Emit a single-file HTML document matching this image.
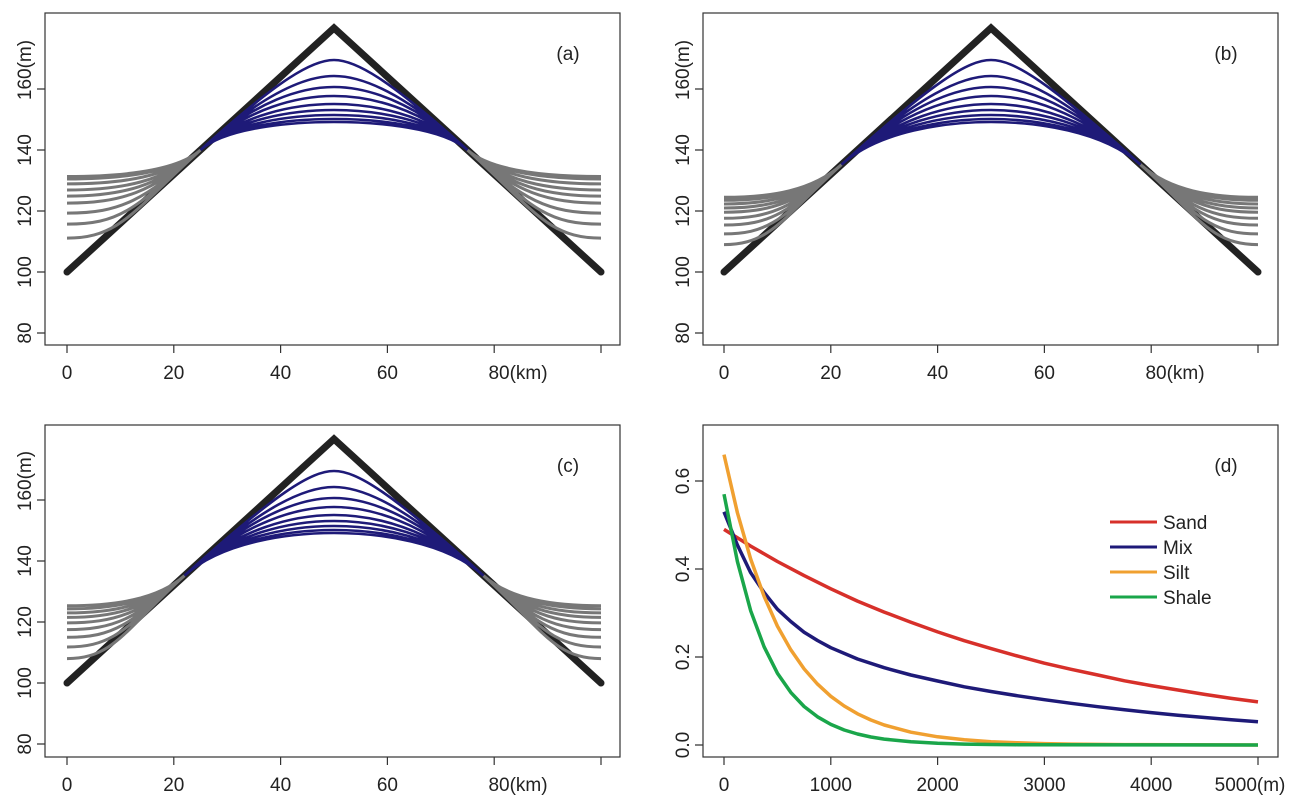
<!DOCTYPE html>
<html><head><meta charset="utf-8"><style>
body{margin:0;background:#fff}
svg text{font-family:"Liberation Sans",sans-serif;font-size:19px;fill:#222}
.g{fill:none;stroke:#777;stroke-width:3}
.b{fill:none;stroke:#1e1a78;stroke-width:2.6}
.k{fill:none;stroke:#222;stroke-width:7;stroke-linecap:round}
.f{fill:none;stroke:#333;stroke-width:1.2}
</style></head><body>
<svg width="1293" height="807" xmlns="http://www.w3.org/2000/svg">
<rect class="f" x="45" y="13" width="575" height="332"/>
<rect class="f" x="703" y="13" width="575" height="332"/>
<rect class="f" x="45" y="425" width="575" height="332"/>
<rect class="f" x="703" y="425" width="575" height="332"/>
<g stroke="#333" stroke-width="1.2">
<path d="M67,345v8M173.8,345v8M280.6,345v8M387.4,345v8M494.2,345v8M601,345v8"/>
<path d="M724,345v8M830.8,345v8M937.6,345v8M1044.4,345v8M1151.2,345v8M1258,345v8"/>
<path d="M67,757v8M173.8,757v8M280.6,757v8M387.4,757v8M494.2,757v8M601,757v8"/>
<path d="M724,757v8M830.8,757v8M937.6,757v8M1044.4,757v8M1151.2,757v8M1258,757v8"/>
<path d="M45,333h-8M45,272h-8M45,211h-8M45,150h-8M45,89h-8"/>
<path d="M703,333h-8M703,272h-8M703,211h-8M703,150h-8M703,89h-8"/>
<path d="M45,744h-8M45,683h-8M45,622h-8M45,561h-8M45,500h-8"/>
<path d="M703,745h-8M703,657h-8M703,569h-8M703,481h-8"/>
</g>
<g text-anchor="middle">
<text x="67" y="379">0</text><text x="173.8" y="379">20</text><text x="280.6" y="379">40</text><text x="387.4" y="379">60</text><text x="518" y="379">80(km)</text>
<text x="724" y="379">0</text><text x="830.8" y="379">20</text><text x="937.6" y="379">40</text><text x="1044.4" y="379">60</text><text x="1175" y="379">80(km)</text>
<text x="67" y="791">0</text><text x="173.8" y="791">20</text><text x="280.6" y="791">40</text><text x="387.4" y="791">60</text><text x="518" y="791">80(km)</text>
<text x="724" y="791">0</text><text x="830.8" y="791">1000</text><text x="937.6" y="791">2000</text><text x="1044.4" y="791">3000</text><text x="1151.2" y="791">4000</text><text x="1250" y="791">5000(m)</text>
<text transform="translate(31,333) rotate(-90)">80</text><text transform="translate(31,272) rotate(-90)">100</text><text transform="translate(31,211) rotate(-90)">120</text><text transform="translate(31,150) rotate(-90)">140</text><text transform="translate(31,70) rotate(-90)">160(m)</text>
<text transform="translate(689,333) rotate(-90)">80</text><text transform="translate(689,272) rotate(-90)">100</text><text transform="translate(689,211) rotate(-90)">120</text><text transform="translate(689,150) rotate(-90)">140</text><text transform="translate(689,70) rotate(-90)">160(m)</text>
<text transform="translate(31,744) rotate(-90)">80</text><text transform="translate(31,683) rotate(-90)">100</text><text transform="translate(31,622) rotate(-90)">120</text><text transform="translate(31,561) rotate(-90)">140</text><text transform="translate(31,481) rotate(-90)">160(m)</text>
<text transform="translate(689,745) rotate(-90)">0.0</text><text transform="translate(689,657) rotate(-90)">0.2</text><text transform="translate(689,569) rotate(-90)">0.4</text><text transform="translate(689,481) rotate(-90)">0.6</text>
<text x="568" y="60">(a)</text><text x="1226" y="60">(b)</text><text x="568" y="472">(c)</text><text x="1226" y="472">(d)</text>
</g>

<!-- panel a -->
<path class="k" d="M67,272L334,28L601,272"/>
<path class="g" d="M67,176.5C120.4,176.5 176.9,171.2 200.5,150M601,176.5C547.6,176.5 491.1,171.2 467.5,150
M67,179C120.4,179 174.7,173.2 200.5,150M601,179C547.6,179 493.3,173.2 467.5,150
M67,183.9C120.4,183.9 170.4,177.1 200.5,150M601,183.9C547.6,183.9 497.6,177.1 467.5,150
M67,190C120.4,190 164.9,182 200.5,150M601,190C547.6,190 503.1,182 467.5,150
M67,196.1C120.4,196.1 159.5,186.9 200.5,150M601,196.1C547.6,196.1 508.5,186.9 467.5,150
M67,203.1C120.4,203.1 153.3,192.5 200.5,150M601,203.1C547.6,203.1 514.7,192.5 467.5,150
M67,213.1C120.4,213.1 144.4,200.5 200.5,150M601,213.1C547.6,213.1 523.6,200.5 467.5,150
M67,224.1C120.4,224.1 134.6,209.3 200.5,150M601,224.1C547.6,224.1 533.4,209.3 467.5,150
M67,238.1C120.4,238.1 133.75,210.1 200.5,150M601,238.1C547.6,238.1 534.25,210.1 467.5,150"/>
<path class="b" d="M200.5,150C225.4,127.6 290.6,122 334,122S442.6,127.6 467.5,150
M200.5,150C228.1,125.2 291.6,119 334,119S439.9,125.2 467.5,150
M200.5,150C231.7,121.9 293.1,115 334,115S436.3,121.9 467.5,150
M200.5,150C236.1,118 294.8,110 334,110S431.9,118 467.5,150
M200.5,150C241.4,113.2 297,104 334,104S426.6,113.2 467.5,150
M200.5,150C248.6,106.7 299.8,96 334,96S419.4,106.7 467.5,150
M200.5,150C256.6,99.5 303,87 334,87S411.4,99.5 467.5,150
M200.5,150C266.4,90.7 307,76 334,76S401.6,90.7 467.5,150
M200.5,150C280.6,77.9 312.6,60 334,60S387.4,77.9 467.5,150"/>

<!-- panel b -->
<path class="k" d="M724,272L991,28L1258,272"/>
<path class="g" d="M724,197.3C771,197.3 812.4,190.8 841.5,164.6M1258,197.3C1211,197.3 1169.6,190.8 1140.5,164.6
M724,200.3C771,200.3 809.8,193.1 841.5,164.6M1258,200.3C1211,200.3 1172.2,193.1 1140.5,164.6
M724,204C771,204 806.5,196.1 841.5,164.6M1258,204C1211,204 1175.5,196.1 1140.5,164.6
M724,208C771,208 802.9,199.3 841.5,164.6M1258,208C1211,208 1179.1,199.3 1140.5,164.6
M724,212.2C771,212.2 799.2,202.7 841.5,164.6M1258,212.2C1211,212.2 1182.8,202.7 1140.5,164.6
M724,218.3C771,218.3 793.8,207.5 841.5,164.6M1258,218.3C1211,218.3 1188.2,207.5 1140.5,164.6
M724,225C771,225 787.8,212.9 841.5,164.6M1258,225C1211,225 1194.2,212.9 1140.5,164.6
M724,233.9C771,233.9 782.75,217.5 841.5,164.6M1258,233.9C1211,233.9 1199.25,217.5 1140.5,164.6
M724,244.6C771,244.6 782.75,217.5 841.5,164.6M1258,244.6C1211,244.6 1199.25,217.5 1140.5,164.6"/>
<path class="b" d="M841.5,164.6C879.4,130.5 946.4,122 991,122S1102.6,130.5 1140.5,164.6
M841.5,164.6C882.1,128.1 947.4,119 991,119S1099.9,128.1 1140.5,164.6
M841.5,164.6C885.6,124.9 948.8,115 991,115S1096.4,124.9 1140.5,164.6
M841.5,164.6C890.1,120.9 950.6,110 991,110S1091.9,120.9 1140.5,164.6
M841.5,164.6C895.4,116.1 952.8,104 991,104S1086.6,116.1 1140.5,164.6
M841.5,164.6C902.6,109.6 955.6,96 991,96S1079.4,109.6 1140.5,164.6
M841.5,164.6C910.6,102.4 958.8,87 991,87S1071.4,102.4 1140.5,164.6
M841.5,164.6C920.4,93.6 962.8,76 991,76S1061.6,93.6 1140.5,164.6
M841.5,164.6C934.6,80.8 968.4,60 991,60S1047.4,80.8 1140.5,164.6"/>

<!-- panel c -->
<path class="k" d="M67,683L334,439L601,683"/>
<path class="g" d="M67,605.8C114,605.8 157.7,599.7 184.5,575.6M601,605.8C554,605.8 510.3,599.7 483.5,575.6
M67,608.9C114,608.9 154.9,602.2 184.5,575.6M601,608.9C554,608.9 513.1,602.2 483.5,575.6
M67,612.9C114,612.9 151.3,605.5 184.5,575.6M601,612.9C554,612.9 516.7,605.5 483.5,575.6
M67,617.4C114,617.4 147.3,609.1 184.5,575.6M601,617.4C554,617.4 520.7,609.1 483.5,575.6
M67,622.9C114,622.9 142.5,613.4 184.5,575.6M601,622.9C554,622.9 525.5,613.4 483.5,575.6
M67,629.6C114,629.6 136.5,618.8 184.5,575.6M601,629.6C554,629.6 531.5,618.8 483.5,575.6
M67,637.3C114,637.3 129.6,625 184.5,575.6M601,637.3C554,637.3 538.4,625 483.5,575.6
M67,647C114,647 125.75,628.5 184.5,575.6M601,647C554,647 542.25,628.5 483.5,575.6
M67,658.6C114,658.6 125.75,628.5 184.5,575.6M601,658.6C554,658.6 542.25,628.5 483.5,575.6"/>
<path class="b" d="M184.5,575.6C222.4,541.5 289.4,533 334,533S445.6,541.5 483.5,575.6
M184.5,575.6C225.1,539.1 290.4,530 334,530S442.9,539.1 483.5,575.6
M184.5,575.6C228.6,535.9 291.8,526 334,526S439.4,535.9 483.5,575.6
M184.5,575.6C233.1,531.9 293.6,521 334,521S434.9,531.9 483.5,575.6
M184.5,575.6C238.4,527.1 295.8,515 334,515S429.6,527.1 483.5,575.6
M184.5,575.6C245.6,520.6 298.6,507 334,507S422.4,520.6 483.5,575.6
M184.5,575.6C253.6,513.4 301.8,498 334,498S414.4,513.4 483.5,575.6
M184.5,575.6C263.4,504.6 305.8,487 334,487S404.6,504.6 483.5,575.6
M184.5,575.6C277.6,491.8 311.4,471 334,471S390.4,491.8 483.5,575.6"/>

<!-- panel d -->
<polyline fill="none" stroke="#d7302a" stroke-width="3.5" stroke-linejoin="round" points="724,529.4 750.7,546.1 777.4,561.5 804.1,575.6 830.8,588.8 857.5,601.1 884.2,612.1 910.9,622.2 937.6,631.9 964.3,640.7 991,648.6 1017.7,656.1 1044.4,663.2 1071.1,669.3 1097.8,675 1124.5,680.8 1151.2,685.6 1177.9,690 1204.6,694.4 1231.3,698.4 1258,701.9"/>
<polyline fill="none" stroke="#1e1a78" stroke-width="3.5" stroke-linejoin="round" points="724,511.8 737.4,545 750.7,572.7 764.1,592.5 777.4,609.2 790.8,621.5 804.1,632.2 817.5,640.5 830.8,647.7 857.5,659 884.2,667.7 910.9,675 937.6,681 964.3,686.8 991,691.5 1017.7,695.8 1044.4,699.7 1071.1,703.3 1097.8,706.7 1124.5,709.8 1151.2,712.6 1177.9,715.2 1204.6,717.5 1231.3,719.7 1258,721.8"/>
<polyline fill="none" stroke="#f0a030" stroke-width="3.5" stroke-linejoin="round" points="724,454.6 737.4,512.7 750.7,559.1 764.1,596.3 777.4,626.1 790.8,649.8 804.1,668.9 817.5,684.1 830.8,696.3 844.2,706 857.5,713.8 870.9,720 884.2,725 910.9,732.2 937.6,736.8 964.3,739.8 991,741.7 1017.7,742.8 1044.4,743.6 1071.1,744.1 1097.8,744.4 1124.5,744.6 1258,745"/>
<polyline fill="none" stroke="#1aa64a" stroke-width="3.5" stroke-linejoin="round" points="724,494.2 737.4,561.5 750.7,610.8 764.1,646.8 777.4,673.2 790.8,692.4 804.1,706.5 817.5,716.8 830.8,724.4 844.2,730 857.5,734 870.9,737 884.2,739.1 910.9,741.8 937.6,743.3 964.3,744.1 991,744.5 1017.7,744.7 1258,745"/>
<g stroke-width="3">
<line x1="1110" y1="522" x2="1157" y2="522" stroke="#d7302a"/>
<line x1="1110" y1="547" x2="1157" y2="547" stroke="#1e1a78"/>
<line x1="1110" y1="572" x2="1157" y2="572" stroke="#f0a030"/>
<line x1="1110" y1="597" x2="1157" y2="597" stroke="#1aa64a"/>
</g>
<text x="1163" y="529">Sand</text><text x="1163" y="554">Mix</text><text x="1163" y="579">Silt</text><text x="1163" y="604">Shale</text>
</svg>
</body></html>
